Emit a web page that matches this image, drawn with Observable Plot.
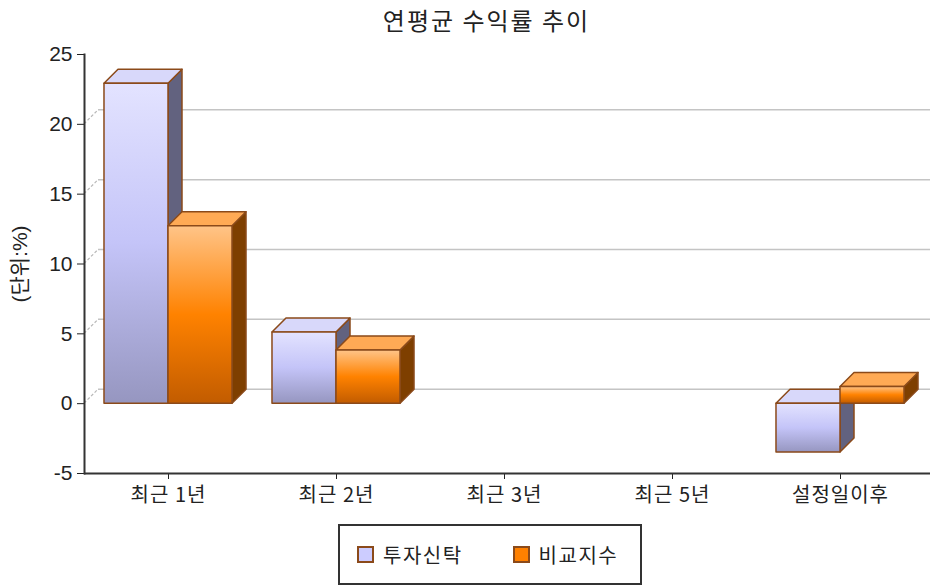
<!DOCTYPE html>
<html>
<head>
<meta charset="utf-8">
<script src="https://cdn.jsdelivr.net/npm/d3@7"></script>
<script src="https://cdn.jsdelivr.net/npm/@observablehq/plot@0.6"></script>
<style>
  html, body { margin: 0; padding: 0; background: #fff; }
  body { width: 930px; height: 585px; overflow: hidden; font-family: "Noto Sans CJK KR", "Liberation Sans", sans-serif; color: #222; }
  #title { height: 40px; line-height: 40px; font-size: 24px; letter-spacing: 2px; text-align: center; padding-left: 43px; }
  #chart svg { display: block; }
  #chart svg g[aria-label="x-axis tick label"] text { letter-spacing: 1px; }
  #legend { position: absolute; left: 338px; top: 524px; width: 300px; height: 57px; border: 2px solid #333; box-sizing: content-box;
            display: flex; align-items: center; font-size: 20px; letter-spacing: 1.5px; }
  .item { display: flex; align-items: center; }
  .sw { width: 13px; height: 13px; border: 2px solid #8b4a1a; margin-right: 9px; }
</style>
</head>
<body>
<div id="title">연평균 수익률 추이</div>
<div id="chart"></div>
<div id="legend"></div>
<script>
const categories = ["최근 1년", "최근 2년", "최근 3년", "최근 5년", "설정일이후"];
const seriesNames = ["투자신탁", "비교지수"];
const fundValues = [22.9, 5.1, null, null, -3.5];
const indexValues = [12.7, 3.8, null, null, 1.2];
const yTicks = [-5, 0, 5, 10, 15, 20, 25];
const gridTicks = [0, 5, 10, 15, 20];

const palette = {
  "투자신탁": {stops: ["#e3e3ff", "#c4c4f8", "#9696c0"], side: "#62627f", top: "#d8d8fa", swatch: "#ccccff"},
  "비교지수": {stops: ["#ffc488", "#ff8200", "#c25c00"], side: "#7e3f00", top: "#ffaa55", swatch: "#ff8000"}
};
const edge = "#8b4a1a";
const depth = 14;

const rows = [];
categories.forEach((c, i) => {
  [fundValues, indexValues].forEach((arr, s) => {
    if (arr[i] != null) rows.push({category: c, series: seriesNames[s], value: arr[i]});
  });
});

function gridRender(index, scales, values, dimensions) {
  const g = d3.create("svg:g");
  const left = dimensions.marginLeft;
  const right = dimensions.width;
  for (const i of index) {
    const y = values.y[i];
    g.append("line").attr("x1", left).attr("y1", y).attr("x2", left + depth).attr("y2", y - depth)
      .attr("stroke", "#b8b8b8").attr("stroke-width", 1.2).attr("stroke-dasharray", "3,2");
    g.append("line").attr("x1", left + depth).attr("y1", y - depth).attr("x2", right).attr("y2", y - depth)
      .attr("stroke", "#c4c4c4").attr("stroke-width", 1.5);
  }
  return g.node();
}

function barRender(index, scales, values, dimensions) {
  const g = d3.create("svg:g");
  const defs = g.append("defs");
  seriesNames.forEach((s, k) => {
    const lg = defs.append("linearGradient").attr("id", "grad" + k).attr("x1", 0).attr("y1", 0).attr("x2", 0).attr("y2", 1);
    palette[s].stops.forEach((c, j) => lg.append("stop").attr("offset", j / (palette[s].stops.length - 1)).attr("stop-color", c));
  });
  const bw = scales.x(categories[1]) - scales.x(categories[0]);
  const inset = bw * 0.119;
  const barW = bw * 0.381;
  for (const i of index) {
    const d = rows[i];
    const k = seriesNames.indexOf(d.series);
    const x0 = values.x[i] + inset + k * barW;
    const x1 = x0 + barW;
    const yt = Math.min(values.y1[i], values.y2[i]);
    const yb = Math.max(values.y1[i], values.y2[i]);
    const p = palette[d.series];
    const bar = g.append("g").attr("stroke", edge).attr("stroke-width", 1.5).attr("stroke-linejoin", "round");
    bar.append("polygon")
      .attr("points", [[x1, yt], [x1 + depth, yt - depth], [x1 + depth, yb - depth], [x1, yb]].map(q => q.join(",")).join(" "))
      .attr("fill", p.side);
    bar.append("polygon")
      .attr("points", [[x0, yt], [x0 + depth, yt - depth], [x1 + depth, yt - depth], [x1, yt]].map(q => q.join(",")).join(" "))
      .attr("fill", p.top);
    bar.append("rect").attr("x", x0).attr("y", yt).attr("width", barW).attr("height", yb - yt)
      .attr("fill", `url(#grad${k})`);
  }
  return g.node();
}

const chart = Plot.plot({
  width: 930,
  height: 480,
  marginTop: 14,
  marginBottom: 47,
  marginLeft: 84,
  marginRight: 0,
  style: {fontSize: "20px", fontFamily: "'Liberation Sans', 'Noto Sans CJK KR', sans-serif", color: "#222", background: "#fff", overflow: "visible"},
  x: {domain: categories, range: [84, 924], padding: 0, label: null},
  y: {domain: [-5, 25], label: null},
  marks: [
    Plot.ruleY(gridTicks, {render: gridRender}),
    Plot.barY(rows, {x: "category", y1: 0, y2: "value", render: barRender}),
    Plot.axisX({tickSize: 6, tickPadding: 8, label: null, fontFamily: "'Noto Sans CJK KR', sans-serif", fontSize: 20}),
    Plot.axisY(yTicks, {tickSize: 7, tickPadding: 5, tickFormat: d => `${d}`, fontSize: 21, label: "(단위:%)", labelAnchor: "center", labelOffset: 72, labelArrow: "none"}),
    Plot.ruleY([-5], {stroke: "#333", strokeWidth: 2}),
    Plot.frame({anchor: "left", stroke: "#333", strokeWidth: 2})
  ]
});
document.getElementById("chart").appendChild(chart);

const legend = document.getElementById("legend");
seriesNames.forEach((s, k) => {
  const item = document.createElement("div");
  item.className = "item";
  item.style.marginLeft = k === 0 ? "17px" : "50px";
  const sw = document.createElement("div");
  sw.className = "sw";
  sw.style.background = palette[s].swatch;
  const t = document.createElement("span");
  t.textContent = s;
  item.appendChild(sw);
  item.appendChild(t);
  legend.appendChild(item);
});
</script>
</body>
</html>
